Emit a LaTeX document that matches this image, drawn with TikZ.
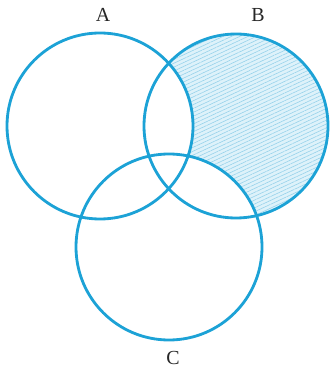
\documentclass[tikz,border=0pt]{standalone}
\usepackage{fontspec}
\setmainfont{Liberation Serif}
\usepackage{xcolor}
\usepackage{tikz}
\usetikzlibrary{patterns.meta}

\definecolor{vennblue}{RGB}{28,162,214}
\definecolor{hatchblue}{RGB}{150,210,235}
\definecolor{paleblue}{RGB}{222,242,250}

\tikzset{
   setline/.style={vennblue,line width=2.4pt},
   setlabel/.style={font=\fontsize{17}{20}\selectfont,text=black!85}
}

\begin{document}
\begin{tikzpicture}[x=0.03cm,y=-0.03cm]
   \useasboundingbox (0,0) rectangle (333,377);

   % Shaded part of B
   \fill[paleblue,postaction={pattern={Lines[angle=25,distance=3pt,line width=0.5pt]},pattern color=hatchblue}]
      (236,126) circle[radius=92];
   \fill[white] (100,126) circle[radius=93];
   \fill[white] (169,247) circle[radius=93];

   % Circles
   \draw[setline] (100,126) circle[radius=93];
   \draw[setline] (236,126) circle[radius=92];
   \draw[setline] (169,247) circle[radius=93];

   % Labels
   \node[setlabel] (labA) at (103,15) {A};
   \node[setlabel] (labB) at (258,15) {B};
   \node[setlabel] (labC) at (173,358) {C};
\end{tikzpicture}
\end{document}
